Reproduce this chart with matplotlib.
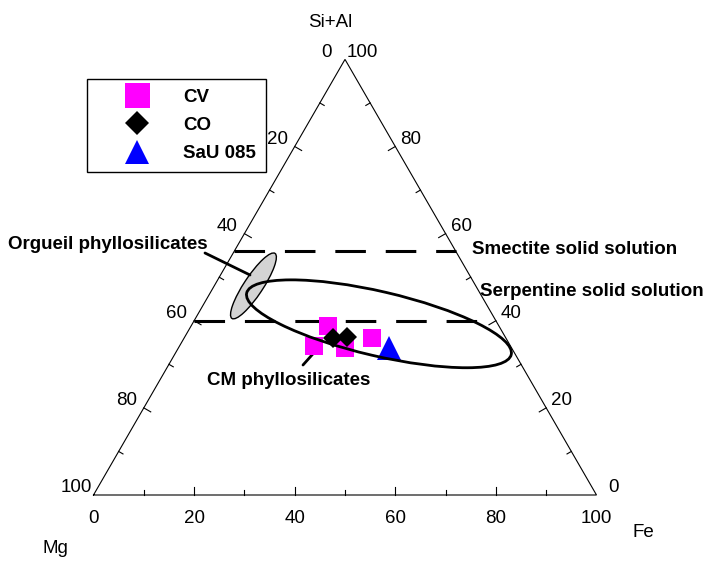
import numpy as np
import matplotlib.pyplot as plt
from matplotlib.patches import Ellipse

plt.rcParams["font.family"] = ["Liberation Sans", "DejaVu Sans"]

# compositions in % : Mg, Fe, Si+Al
cv_mg = [34.0, 39.1, 33.2, 26.6]
cv_fe = [27.2, 26.7, 33.1, 37.4]
cv_sial = [38.8, 34.2, 33.7, 36.0]

co_mg = [34.4, 31.5]
co_fe = [29.6, 32.2]
co_sial = [36.0, 36.3]

sau_mg = [24.5]
sau_fe = [41.8]
sau_sial = [33.7]

# solid solution levels (Si+Al %)
smectite_sial = 56
serpentine_sial = 40

# field centres (Mg, Fe, Si+Al)
serp_field = (23.6, 37.1, 39.3)
orgueil_field = (44.2, 7.8, 48.0)

tick_values = [0, 20, 40, 60, 80, 100]
minor_values = [10, 30, 50, 70, 90]

H = np.sqrt(3) / 2
SIDE = 503.0  # pixels per triangle side
W, HT = 714, 561


def tern(mg, fe, sial):
    mg, fe, sial = (np.asarray(v, dtype=float) for v in (mg, fe, sial))
    tot = mg + fe + sial
    fe, sial = fe / tot, sial / tot
    return fe + sial / 2, sial * H


def fp(px, py):
    """ figure pixel position from top-left pixel coords """
    return (px, HT - py)


fig = plt.figure(figsize=(W / 100, HT / 100), dpi=100)
ax = fig.add_axes([0, 0, 1, 1])
ax.set_xlim(-93.5 / SIDE, (W - 93.5) / SIDE)
ax.set_ylim(-(HT - 495) / SIDE, 495 / SIDE)
ax.axis("off")

# frame
ax.plot([0, 1, 0.5, 0], [0, 0, H, 0], color="k", lw=0.8, solid_joinstyle="miter", zorder=2)

# ticks (inward)
for v in tick_values[1:-1] + minor_values:
    ln = (8 if v % 20 == 0 else 5) / SIDE
    f = v / 100
    # bottom (Fe)
    ax.plot([f, f], [0, ln], color="k", lw=0.8)
    # left (Mg)
    x, y = 0.5 * (1 - f), (1 - f) * H
    ax.plot([x, x + ln * H], [y, y - ln * 0.5], color="k", lw=0.8)
    # right (Si+Al)
    x, y = 1 - f / 2, f * H
    ax.plot([x, x - ln * H], [y, y - ln * 0.5], color="k", lw=0.8)

lab_kw = dict(fontsize=13.5, textcoords="offset pixels", va="baseline")
for v in tick_values:
    f = v / 100
    ax.annotate(str(v), (f, 0), xytext=(0, -28), ha="center", **lab_kw)
    dx = -13 if v == 0 else (-1.5 if v == 100 else -7)
    ax.annotate(str(v), (0.5 * (1 - f), (1 - f) * H), xytext=(dx, 2.5), ha="right", **lab_kw)
    dx = 2 if v == 100 else (11.5 if v == 0 else 5)
    ax.annotate(str(v), (1 - f / 2, f * H), xytext=(dx, 2.5), ha="left", **lab_kw)

# axis names
fig.text(330 / W, 1 - 27 / HT, "Si+Al", fontsize=13.5, ha="center", va="baseline")
fig.text(68 / W, 1 - 553 / HT, "Mg", fontsize=13.5, ha="right", va="baseline")
fig.text(633 / W, 1 - 537 / HT, "Fe", fontsize=13.5, ha="left", va="baseline")

# solid solution lines
for s in (smectite_sial, serpentine_sial):
    f = s / 100
    ax.plot([f / 2, 1 - f / 2], [f * H, f * H], color="k", lw=2.2,
            ls=(0, (10, 6.5)), dash_capstyle="butt", zorder=2)

# fields
ox, oy = tern(*orgueil_field)
ax.add_patch(Ellipse((ox, oy), 78 / SIDE, 19 / SIDE, angle=56.5,
                     facecolor="#d3d3d3", edgecolor="k", lw=1.0, zorder=3))
sx, sy = tern(*serp_field)
ax.add_patch(Ellipse((sx, sy), 0.540, 0.128, angle=-13.1,
                     facecolor="none", edgecolor="k", lw=2.0, zorder=6))

# data
ax.plot(*tern(cv_mg, cv_fe, cv_sial), "s", color="#ff00ff", ms=13, mew=0, label="CV", zorder=4)
ax.plot(*tern(co_mg, co_fe, co_sial), "D", color="k", ms=10.2, mew=0, label="CO", zorder=5)
ax.plot(*tern(sau_mg, sau_fe, sau_sial), "^", color="#0000ff", ms=17.5, mew=0, label="SaU 085", zorder=5)

leg = ax.legend(loc="upper left", bbox_to_anchor=(87 / W, 1 - 79 / HT), bbox_transform=fig.transFigure,
                borderaxespad=0, frameon=True, fancybox=False, shadow=False, framealpha=1,
                edgecolor="k", numpoints=1, handlelength=4.3, handletextpad=0.34,
                borderpad=0.5, labelspacing=0.6, prop=dict(size=13.5, weight="bold"))
leg.get_frame().set_linewidth(1.0)
for h, ms in zip(leg.legend_handles, (18, 12.7, 17)):
    h.set_markersize(ms)

# annotations
bold = dict(fontsize=13.5, fontweight="bold", va="baseline")
fig.text(208 / W, 1 - 249 / HT, "Orgueil phyllosilicates", ha="right", **bold)
fig.text(472 / W, 1 - 254 / HT, "Smectite solid solution", ha="left", **bold)
fig.text(480 / W, 1 - 296 / HT, "Serpentine solid solution", ha="left", **bold)
fig.text(207 / W, 1 - 385 / HT, "CM phyllosilicates", ha="left", **bold)

line_kw = dict(xycoords="figure pixels", arrowprops=dict(arrowstyle="-", lw=2.0, shrinkA=0, shrinkB=0))
ax.annotate("", xy=fp(250, 275), xytext=fp(205, 253), **line_kw)
ax.annotate("", xy=fp(320, 346), xytext=fp(303, 365), **line_kw)

fig.savefig("out.png", dpi=100)
